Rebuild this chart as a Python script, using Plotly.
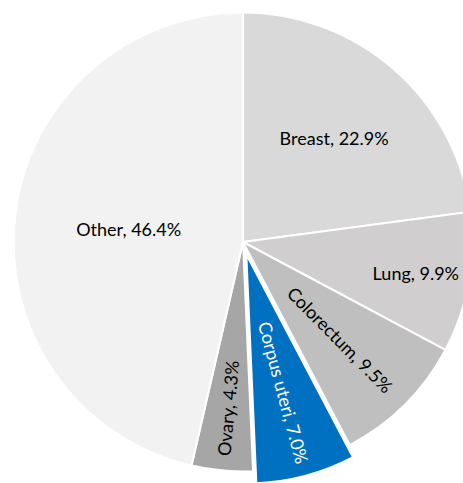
import plotly.graph_objects as go

labels = ["Breast", "Lung", "Colorectum", "Corpus uteri", "Ovary", "Other"]
values = [22.9, 9.9, 9.5, 7.0, 4.3, 46.4]
colors = ["#d9d9d9", "#d0cece", "#bfbfbf", "#0070c0", "#a6a6a6", "#f2f2f2"]
text_colors = ["#000000", "#000000", "#000000", "#ffffff", "#000000", "#000000"]
pulls = [0, 0, 0, 0.055, 0, 0]

fig = go.Figure(go.Pie(
    labels=labels,
    values=values,
    sort=False,
    direction="clockwise",
    rotation=0,
    pull=pulls,
    marker=dict(colors=colors, line=dict(color="#ffffff", width=2)),
    texttemplate="%{label}, %{percent:.1%}",
    textposition="inside",
    insidetextorientation="auto",
    textfont=dict(family="Lato", size=18, color=text_colors),
    showlegend=False,
    hoverinfo="label+percent",
))

fig.update_layout(
    width=486,
    height=484,
    margin=dict(l=0, r=0, t=0, b=0),
    paper_bgcolor="#ffffff",
    plot_bgcolor="#ffffff",
)

fig.write_html(
    "out.html",
    config={"displayModeBar": False},
    post_script="document.body.style.margin='0';document.body.style.overflow='hidden';",
)
